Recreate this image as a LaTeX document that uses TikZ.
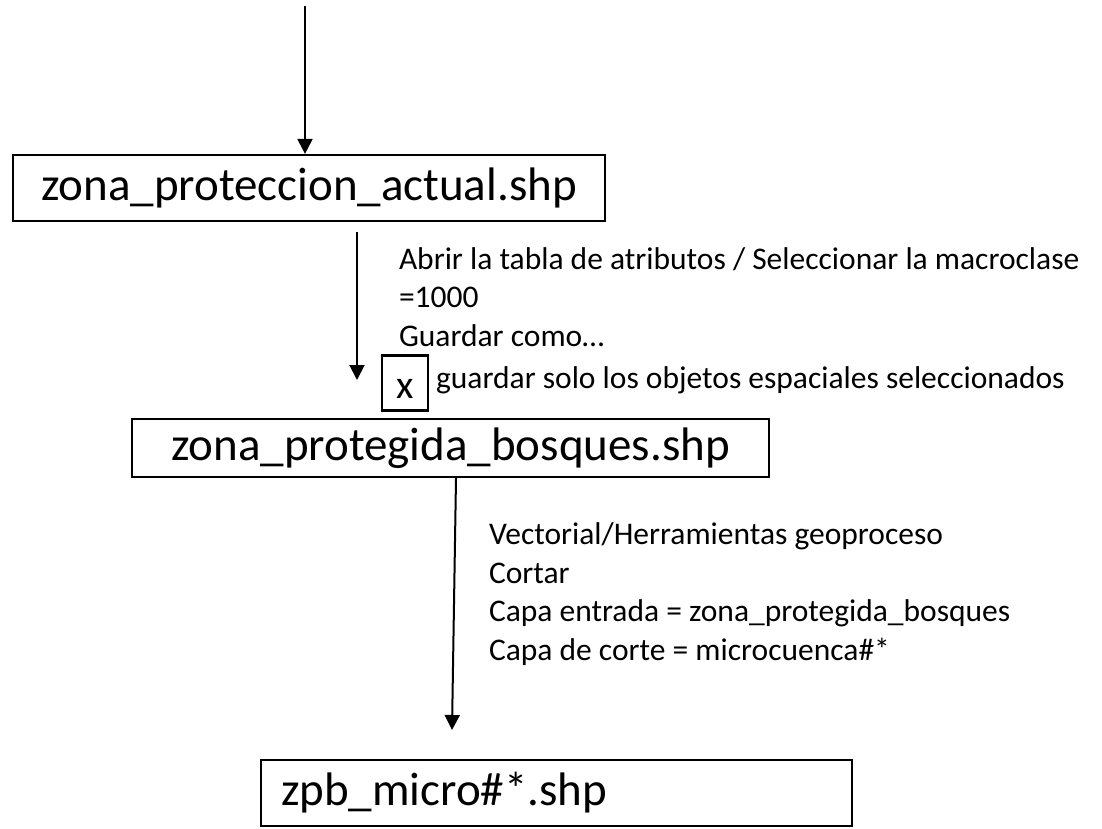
\documentclass[tikz,border=0pt]{standalone}
\usepackage{fontspec}
\setmainfont{Carlito}
\usetikzlibrary{arrows.meta, positioning}
\newcommand{\filefont}{\fontsize{47}{56}\selectfont}
\newcommand{\notefont}{\fontsize{31.5}{38.5}\selectfont}
\tikzset{
  filebox/.style = {draw, rectangle, line width=2.2pt, font=\filefont, inner sep=0pt},
  note/.style = {align=left, font=\notefont, anchor=west, inner sep=0pt},
  checkbox/.style = {draw, rectangle, line width=2.2pt, font=\fontsize{40}{48}\selectfont,
                     minimum width=46pt, minimum height=55pt, inner sep=0pt}
}

\begin{document}
\begin{tikzpicture}[x=1pt, y=-1pt, line width=2pt, >={Triangle[length=15pt, width=15pt]}]
    \useasboundingbox (0,0) rectangle (1102,829);

    % Place the nodes
    \node [filebox, minimum width=592pt, minimum height=66pt] (actual) at (309,188) {zona\_proteccion\_actual.shp};
    \node [filebox, minimum width=637pt, minimum height=58pt] (bosques) at (450.5,448) {zona\_protegida\_bosques.shp};
    \node [filebox, minimum height=66pt, text width=551pt, inner xsep=20pt, align=left] (micro) at (556.5,793) {zpb\_micro\#*.shp};

    % Labels of the steps
    \node [note] (steps1) at (398,297) {Abrir la tabla de atributos / Seleccionar la macroclase\\=1000\\Guardar como…};
    \node [checkbox] (xbox) at (405,383) {\smash{\raisebox{-15pt}{x}}};
    \node [note, right=6pt of xbox, yshift=3pt] (savesel) {guardar solo los objetos espaciales seleccionados};
    \node [note] (steps2) at (488,594) {Vectorial/Herramientas geoproceso\\Cortar\\Capa entrada = zona\_protegida\_bosques\\Capa de corte = microcuenca\#*};

    % Free ends of the arrows
    \coordinate (in) at (305,6);
    \coordinate (a2start) at (357,232);
    \coordinate (a2end) at (357,380);
    \coordinate (a3end) at (452,730);

    % Draw the arrows
    \draw [->] (in) -- (in |- actual.north);
    \draw [->] (a2start) -- (a2end);
    \draw [->] ([xshift=5.5pt]bosques.south) -- (a3end);

\end{tikzpicture}
\end{document}
